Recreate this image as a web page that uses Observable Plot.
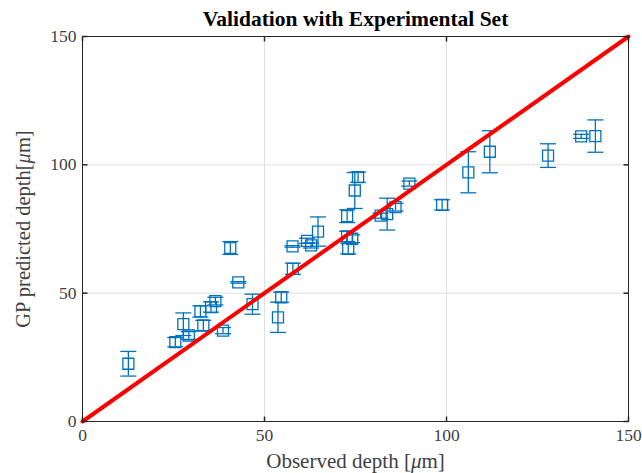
<!DOCTYPE html>
<html>
<head>
<meta charset="utf-8">
<script src="https://cdn.jsdelivr.net/npm/d3@7"></script>
<script src="https://cdn.jsdelivr.net/npm/@observablehq/plot@0.6"></script>
<style>
  html, body { margin: 0; padding: 0; background: #fff; }
</style>
</head>
<body>
<div id="chart"></div>
<script>
// Observed depth (µm)
const observed = [12.6, 25.5, 27.7, 29.2, 32.4, 33.2, 35.3, 36.5, 38.6, 40.6, 42.8, 46.7, 53.7, 54.6, 57.8, 57.7, 61.7, 62.8, 64.7, 72.7, 72.7, 74.1, 73.0, 74.8, 75.7, 81.9, 83.7, 86.0, 89.8, 98.8, 106.0, 111.9, 127.9, 137.0, 140.9];
// GP predicted depth (µm)
const predicted = [22.5, 30.9, 37.9, 33.5, 42.9, 37.4, 44.6, 46.9, 35.4, 67.6, 54.2, 45.7, 40.6, 48.4, 59.5, 68.2, 70.4, 68.6, 74.0, 80.0, 72.1, 71.2, 67.3, 90.0, 95.2, 80.2, 80.8, 83.5, 92.7, 84.4, 97.1, 105.1, 103.6, 111.1, 111.2];
// error (half-width)
const errorHalf = [4.8, 1.8, 4.4, 1.5, 2.2, 2.0, 2.0, 1.5, 1.2, 2.5, 0.3, 3.9, 5.9, 2.0, 2.2, 0.3, 1.0, 1.0, 5.7, 2.5, 2.0, 1.5, 2.0, 7.0, 2.0, 1.0, 6.2, 1.5, 1.0, 2.0, 8.0, 8.2, 4.6, 0.8, 6.3];
// reference line y = x
const refLineX = [0, 150];
const ticks = [0, 50, 100, 150];
const gridTicks = [50, 100];
const titleText = "Validation with Experimental Set";
const xLabel = "Observed depth [μm]";
const yLabel = "GP predicted depth[μm]";

const data = observed.map((x, i) => ({x, y: predicted[i], e: errorHalf[i]}));
const refLine = refLineX.map(v => ({x: v, y: v}));

const blue = "#0072BD";
const axisColor = "#262626";
const serif = "'Liberation Serif', 'Times New Roman', serif";

const sq = {draw(ctx) { ctx.rect(-5.5, -5.5, 11, 11); }};
const cap = {draw(ctx) { ctx.moveTo(-8, 0); ctx.lineTo(8, 0); }};
const tUp = {draw(ctx) { ctx.moveTo(0, 0); ctx.lineTo(0, -5); }};
const tDown = {draw(ctx) { ctx.moveTo(0, 0); ctx.lineTo(0, 5); }};
const tRight = {draw(ctx) { ctx.moveTo(0, 0); ctx.lineTo(5, 0); }};
const tLeft = {draw(ctx) { ctx.moveTo(0, 0); ctx.lineTo(-5, 0); }};

const chart = Plot.plot({
  width: 642,
  height: 473,
  marginLeft: 82,
  marginRight: 14,
  marginTop: 36,
  marginBottom: 52,
  x: {domain: [0, 150]},
  y: {domain: [0, 150]},
  style: {fontFamily: serif, background: "#fff", color: "#404040"},
  marks: [
    Plot.gridX(gridTicks, {stroke: "#dfdfdf", strokeOpacity: 1, strokeWidth: 1}),
    Plot.gridY(gridTicks, {stroke: "#dfdfdf", strokeOpacity: 1, strokeWidth: 1}),
    Plot.ruleX(data, {x: "x", y1: d => d.y - d.e, y2: d => d.y + d.e, stroke: blue, strokeWidth: 1.3}),
    Plot.dot(data, {x: "x", y: d => d.y + d.e, symbol: cap, stroke: blue, fill: "none", strokeWidth: 1.3}),
    Plot.dot(data, {x: "x", y: d => d.y - d.e, symbol: cap, stroke: blue, fill: "none", strokeWidth: 1.3}),
    Plot.dot(data, {x: "x", y: "y", symbol: sq, stroke: blue, fill: "none", strokeWidth: 1.3}),
    Plot.line(refLine, {x: "x", y: "y", stroke: "#ff0000", strokeWidth: 4}),
    Plot.frame({stroke: axisColor, strokeWidth: 1}),
    Plot.dot(ticks, {x: d => d, frameAnchor: "bottom", symbol: tUp, stroke: axisColor, fill: "none"}),
    Plot.dot(ticks, {x: d => d, frameAnchor: "top", symbol: tDown, stroke: axisColor, fill: "none"}),
    Plot.dot(ticks, {y: d => d, frameAnchor: "left", symbol: tRight, stroke: axisColor, fill: "none"}),
    Plot.dot(ticks, {y: d => d, frameAnchor: "right", symbol: tLeft, stroke: axisColor, fill: "none"}),
    Plot.axisX({ticks, tickSize: 0, tickPadding: 7, fontSize: 17.5, label: null, fill: "#404040", fontFamily: serif}),
    Plot.axisY({ticks, tickSize: 0, tickPadding: 6, fontSize: 17.5, label: null, fill: "#404040", fontFamily: serif}),
    Plot.text([titleText], {frameAnchor: "top", dy: -17, fontSize: 21.5, fontWeight: "bold", fill: "#000", textAnchor: "middle", lineAnchor: "middle", fontFamily: serif}),
    Plot.text([xLabel], {frameAnchor: "bottom", dy: 40, fontSize: 21, fill: "#404040", textAnchor: "middle", lineAnchor: "middle", fontFamily: serif}),
    Plot.text([yLabel], {frameAnchor: "left", dx: -59, rotate: -90, fontSize: 20.5, fill: "#404040", textAnchor: "middle", lineAnchor: "middle", fontFamily: serif})
  ]
});

// italicize the Greek mu in axis labels
d3.select(chart).selectAll("text").each(function() {
  const t = d3.select(this);
  const s = t.text();
  if (s.includes("μ") && t.selectAll("tspan").empty()) {
    const i = s.indexOf("μ");
    t.text(null);
    t.append("tspan").text(s.slice(0, i));
    t.append("tspan").attr("font-style", "italic").text("μ");
    t.append("tspan").text(s.slice(i + 1));
  }
});

document.getElementById("chart").appendChild(chart);
</script>
</body>
</html>
